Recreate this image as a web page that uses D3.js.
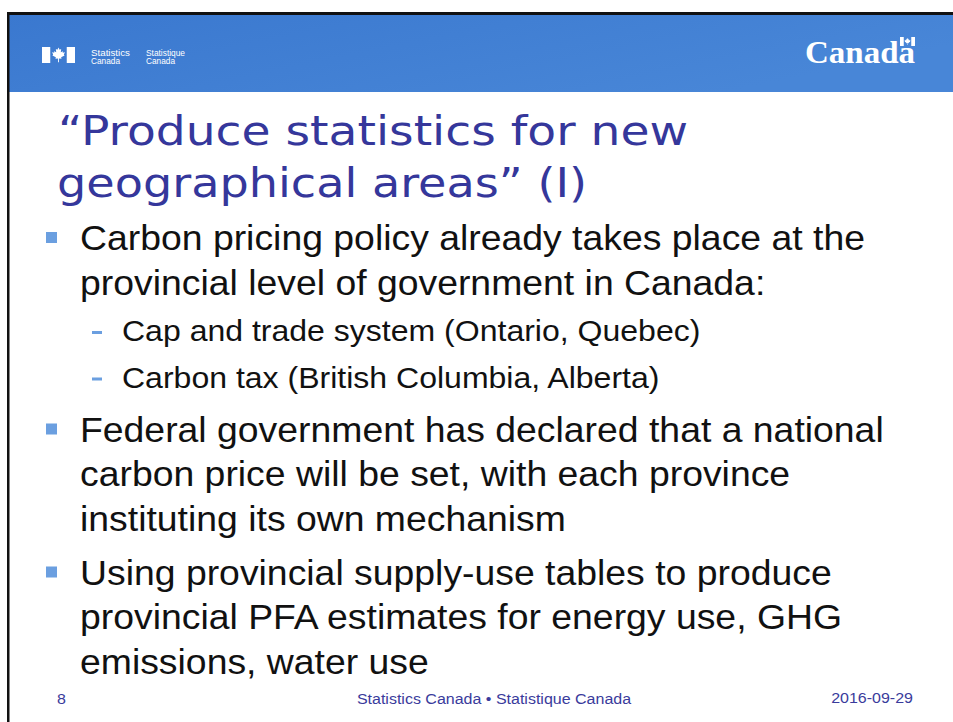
<!DOCTYPE html>
<html>
<head>
<meta charset="utf-8">
<script src="https://cdn.jsdelivr.net/npm/d3@7"></script>
<style>
  html, body { margin: 0; padding: 0; background: #fff; }
  svg { display: block; }
</style>
</head>
<body>
<div class="container"></div>
<script>
const WIDTH = 953;
const HEIGHT = 722;
const SX = 1.068; // the slide is slightly stretched horizontally

// slide content
var titleLines = ["\u201CProduce statistics for new", "geographical areas\u201D (I)"];
var bulletLines = [
  {level: 0, first: true,  text: "Carbon pricing policy already takes place at the"},
  {level: 0, first: false, text: "provincial level of government in Canada:"},
  {level: 1, first: true,  text: "Cap and trade system (Ontario, Quebec)"},
  {level: 1, first: true,  text: "Carbon tax (British Columbia, Alberta)"},
  {level: 0, first: true,  text: "Federal government has declared that a national"},
  {level: 0, first: false, text: "carbon price will be set, with each province"},
  {level: 0, first: false, text: "instituting its own mechanism"},
  {level: 0, first: true,  text: "Using provincial supply-use tables to produce"},
  {level: 0, first: false, text: "provincial PFA estimates for energy use, GHG"},
  {level: 0, first: false, text: "emissions, water use"}
];
var logoLines = [["Statistics", "Canada"], ["Statistique", "Canada"]];
var wordmark = "Canada";
var footerPage = "8";
var footerCentre = "Statistics Canada \u2022 Statistique Canada";
var footerDate = "2016-09-29";

const TITLE_COLOR = "#35379b";
const BULLET_COLOR = "#6b9fe0";
const FOOT_COLOR = "#3a3b9c";

// simple maple leaf outline, unit size
var leafPts = [[0,-1],[0.15,-0.7],[0.35,-0.8],[0.3,-0.35],[0.6,-0.5],[0.55,-0.3],[0.85,-0.35],
  [0.7,-0.05],[0.8,0.05],[0.35,0.3],[0.4,0.5],[0.06,0.45],[0.06,0.95],[-0.06,0.95],[-0.06,0.45],
  [-0.4,0.5],[-0.35,0.3],[-0.8,0.05],[-0.7,-0.05],[-0.85,-0.35],[-0.55,-0.3],[-0.6,-0.5],
  [-0.3,-0.35],[-0.35,-0.8],[-0.15,-0.7]];

var translate = function(x, y){
  return "translate(" + x + "," + y + ")";
};
var stretch = function(x, y){
  return translate(x, y) + " scale(" + SX + ",1)";
};

var drawFlag = function(g, x, y, w, h){
  var bar = w * 0.25;
  g.append("rect").attr("x", x).attr("y", y).attr("width", bar).attr("height", h).attr("fill", "#fff");
  g.append("rect").attr("x", x + w - bar).attr("y", y).attr("width", bar).attr("height", h).attr("fill", "#fff");
  var r = Math.min(w * 0.5 - bar, h * 0.5) * 0.95;
  g.append("path")
    .attr("d", d3.line()(leafPts.map(function(p){ return [p[0] * r, p[1] * r]; })) + "Z")
    .attr("transform", translate(x + w / 2, y + h / 2))
    .attr("fill", "#fff");
};

var svg = d3.select(".container").append("svg")
  .attr("width", WIDTH)
  .attr("height", HEIGHT);

var defs = svg.append("defs");
var grad = defs.append("linearGradient").attr("id", "hdr").attr("x1", 0).attr("x2", 1).attr("y1", 0).attr("y2", 0.4);
grad.append("stop").attr("offset", 0).attr("stop-color", "#3a78cf");
grad.append("stop").attr("offset", 1).attr("stop-color", "#4886d7");

// header band + frame
svg.append("rect").attr("x", 8).attr("y", 14).attr("width", WIDTH - 8).attr("height", 78).attr("fill", "url(#hdr)");
svg.append("rect").attr("x", 7).attr("y", 12).attr("width", WIDTH - 7).attr("height", 3).attr("fill", "#111");
svg.append("rect").attr("x", 7).attr("y", 12).attr("width", 2.5).attr("height", HEIGHT - 12).attr("fill", "#111");

// Statistics Canada signature
var logo = svg.append("g");
drawFlag(logo, 42, 47, 33, 16);
logo.selectAll("g.sig").data(logoLines).enter().append("g")
  .attr("class", "sig")
  .attr("transform", function(d, i){ return translate(91 + i * 55, 0); })
  .selectAll("text").data(function(d){ return d; }).enter().append("text")
  .attr("x", 0)
  .attr("y", function(d, i){ return 55.5 + i * 8.5; })
  .attr("fill", "#fff")
  .attr("font-family", "Liberation Sans, Arial, sans-serif")
  .attr("font-size", 8.6)
  .attr("textLength", function(d, i){ return i === 0 ? 39 : 29; })
  .attr("lengthAdjust", "spacingAndGlyphs")
  .text(function(d){ return d; });

// Canada wordmark
var wm = svg.append("g");
wm.append("text")
  .attr("x", 805).attr("y", 63)
  .attr("fill", "#fff")
  .attr("font-family", "Liberation Serif, Times New Roman, serif")
  .attr("font-weight", "bold")
  .attr("font-size", 32)
  .attr("textLength", 110)
  .attr("lengthAdjust", "spacingAndGlyphs")
  .text(wordmark);
drawFlag(wm, 900, 37, 15, 9);

// title
var titleWidths = [630, 530];
svg.append("g").selectAll("text").data(titleLines).enter().append("text")
  .attr("x", function(d, i){ return i === 0 ? 58 : 57; })
  .attr("y", function(d, i){ return 145 + i * 52; })
  .attr("fill", TITLE_COLOR)
  .attr("font-family", "DejaVu Sans, Verdana, sans-serif")
  .attr("font-size", 41)
  .attr("textLength", function(d, i){ return titleWidths[i]; })
  .attr("lengthAdjust", "spacingAndGlyphs")
  .text(function(d){ return d; });

// bullet layout: baseline of each line from level and paragraph start
var LINE_H = [44.5, 45];
var PARA_GAP = [9.5, 1.5];
var y = 250;
bulletLines.forEach(function(d, i){
  if (i > 0) y += LINE_H[d.level] + (d.first ? PARA_GAP[d.level] : 0);
  d.y = y;
});

var body = svg.append("g");
body.selectAll("text").data(bulletLines).enter().append("text")
  .attr("transform", function(d){ return stretch(d.level === 0 ? 80 : 122, d.y); })
  .attr("fill", "#111")
  .attr("font-family", "Liberation Sans, Arial, sans-serif")
  .attr("font-size", function(d){ return d.level === 0 ? 35 : 30; })
  .text(function(d){ return d.text; });

var firsts = bulletLines.filter(function(d){ return d.first; });
body.selectAll("rect.sq").data(firsts.filter(function(d){ return d.level === 0; })).enter().append("rect")
  .attr("class", "sq")
  .attr("x", 46).attr("width", 11).attr("height", 11)
  .attr("y", function(d){ return d.y - 18; })
  .attr("fill", BULLET_COLOR);
body.selectAll("rect.dash").data(firsts.filter(function(d){ return d.level === 1; })).enter().append("rect")
  .attr("class", "dash")
  .attr("x", 92).attr("width", 10).attr("height", 3)
  .attr("y", function(d){ return d.y - 10; })
  .attr("fill", BULLET_COLOR);

// footer
var foot = svg.append("g")
  .attr("fill", FOOT_COLOR)
  .attr("font-family", "Liberation Sans, Arial, sans-serif")
  .attr("font-size", 15);
foot.append("text").attr("transform", stretch(57, 704)).text(footerPage);
foot.append("text").attr("transform", stretch(494, 704)).attr("text-anchor", "middle").text(footerCentre);
foot.append("text").attr("transform", stretch(913, 703)).attr("text-anchor", "end").text(footerDate);
</script>
</body>
</html>
